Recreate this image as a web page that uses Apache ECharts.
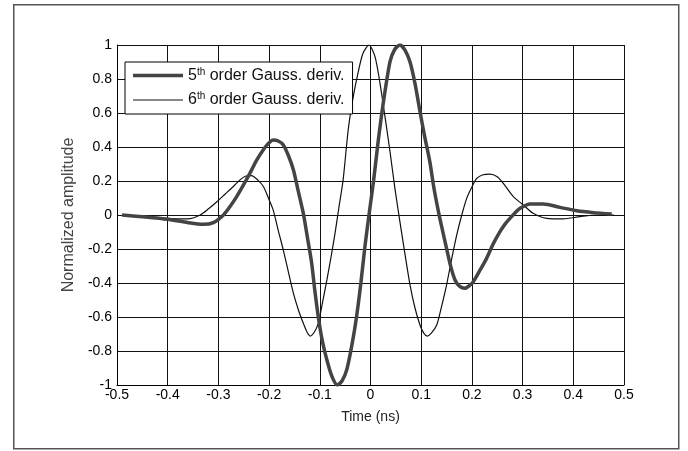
<!DOCTYPE html>
<html>
<head>
<meta charset="utf-8">
<script src="https://cdn.jsdelivr.net/npm/echarts@6/dist/echarts.min.js"></script>
<style>html,body{margin:0;padding:0;background:#fff}#c{width:688px;height:451px}</style>
</head>
<body>
<div id="c"></div>
<script>
// Time (ns) and normalized amplitude
const t5 = [-0.49,-0.45,-0.40,-0.36,-0.33,-0.31,-0.29,-0.277,-0.264,-0.25,-0.238,-0.2245,-0.21,-0.2,-0.192,-0.182,-0.172,-0.162,-0.152,-0.1425,-0.1325,-0.124,-0.116,-0.11,-0.103,-0.095,-0.086,-0.076,-0.0655,-0.056,-0.047,-0.037,-0.0275,-0.019,-0.011,-0.003,0.006,0.015,0.0256,0.0385,0.048,0.058,0.068,0.078,0.088,0.0976,0.107,0.117,0.125,0.134,0.142,0.150,0.158,0.1667,0.176,0.186,0.195,0.2028,0.215,0.229,0.242,0.2554,0.265,0.275,0.285,0.295,0.3146,0.341,0.374,0.4067,0.44,0.4757];
const v5 = [0,-0.01,-0.025,-0.045,-0.055,-0.045,0,0.05,0.108,0.18,0.245,0.323,0.39,0.425,0.441,0.435,0.412,0.35,0.265,0.14,0.01,-0.14,-0.284,-0.44,-0.598,-0.74,-0.853,-0.95,-1.0,-0.975,-0.912,-0.77,-0.598,-0.4,-0.186,0.0,0.2,0.43,0.667,0.902,0.975,1.0,0.97,0.90,0.77,0.608,0.46,0.314,0.16,0.02,-0.09,-0.196,-0.3,-0.382,-0.42,-0.431,-0.415,-0.392,-0.33,-0.255,-0.17,-0.098,-0.055,-0.02,0.012,0.039,0.065,0.065,0.045,0.025,0.014,0.006];
const t6 = [-0.49,-0.45,-0.40,-0.36,-0.336,-0.32,-0.303,-0.287,-0.271,-0.258,-0.247,-0.235,-0.222,-0.211,-0.2,-0.192,-0.182,-0.172,-0.162,-0.152,-0.142,-0.1325,-0.125,-0.119,-0.111,-0.103,-0.095,-0.086,-0.078,-0.070,-0.062,-0.054,-0.044,-0.035,-0.025,-0.015,-0.003,0.009,0.019,0.029,0.0385,0.048,0.058,0.068,0.078,0.088,0.0976,0.105,0.112,0.12,0.1306,0.14,0.150,0.16,0.17,0.18,0.1897,0.2,0.2095,0.222,0.235,0.25,0.262,0.2817,0.3014,0.321,0.3475,0.38,0.413,0.445,0.48];
const v6 = [0,-0.005,-0.02,-0.023,0,0.035,0.078,0.122,0.166,0.205,0.228,0.232,0.205,0.166,0.09,0.03,-0.09,-0.206,-0.335,-0.461,-0.56,-0.637,-0.69,-0.712,-0.69,-0.637,-0.52,-0.382,-0.25,-0.108,0.05,0.206,0.5,0.68,0.83,0.95,1.0,0.93,0.77,0.57,0.372,0.16,-0.039,-0.23,-0.412,-0.55,-0.647,-0.695,-0.712,-0.695,-0.647,-0.54,-0.412,-0.26,-0.118,0.0,0.098,0.165,0.215,0.237,0.24,0.225,0.186,0.108,0.059,0.01,-0.02,-0.023,-0.01,0,0];
const xTicks = {min: -0.5, max: 0.5, step: 0.1};
const yTicks = {min: -1, max: 1, step: 0.2};
const names = ['5th order Gauss. deriv.', '6th order Gauss. deriv.'];

const pairs = (a, b) => a.map((x, i) => [x, b[i]]);
const font = 'Liberation Sans, Arial, Helvetica, sans-serif';

const chart = echarts.init(document.getElementById('c'), null, {renderer: 'canvas'});
chart.setOption({
  animation: false,
  backgroundColor: '#fff',
  graphic: [{
    type: 'rect', left: 13, top: 4, z: -10,
    shape: {width: 665, height: 444},
    style: {fill: '#fff', stroke: '#555', lineWidth: 1.5}
  }],
  grid: {left: 117, right: 64, top: 45, bottom: 66, containLabel: false},
  legend: {
    orient: 'vertical', left: 125, top: 62,
    backgroundColor: '#fff', borderColor: '#000', borderWidth: 1,
    padding: [5, 8, 6, 8], itemGap: 8, itemWidth: 50, itemHeight: 16,
    symbolKeepAspect: true,
    data: [
      {name: names[0], icon: 'path://M0,0H50V3.5H0Z'},
      {name: names[1], icon: 'path://M0,0H50V1.2H0Z'}
    ],
    formatter: n => n.replace(/^(\d)th/, '$1{sup|th}'),
    textStyle: {fontFamily: font, fontSize: 16, color: '#111',
      rich: {sup: {fontFamily: font, fontSize: 10, color: '#111', padding: [0, 0, 7, 0], verticalAlign: 'bottom'}}}
  },
  xAxis: {
    type: 'value', min: xTicks.min, max: xTicks.max, interval: xTicks.step,
    name: 'Time (ns)', nameLocation: 'middle', nameGap: 25,
    nameTextStyle: {fontFamily: font, fontSize: 14, color: '#222'},
    axisLine: {show: true, onZero: false, lineStyle: {color: '#000', width: 1}},
    axisTick: {show: false},
    axisLabel: {fontFamily: font, fontSize: 14, color: '#000', margin: 3},
    splitLine: {show: true, lineStyle: {color: '#111', width: 1}}
  },
  yAxis: {
    type: 'value', min: yTicks.min, max: yTicks.max, interval: yTicks.step,
    name: 'Normalized amplitude', nameLocation: 'middle', nameGap: 36,
    nameTextStyle: {fontFamily: font, fontSize: 16, color: '#444'},
    axisLine: {show: true, onZero: false, lineStyle: {color: '#000', width: 1}},
    axisTick: {show: false},
    axisLabel: {fontFamily: font, fontSize: 14, color: '#000', margin: 5},
    splitLine: {show: true, lineStyle: {color: '#111', width: 1}}
  },
  series: [
    {name: names[0], type: 'line', data: pairs(t5, v5), symbol: 'none', smooth: 0.25,
     lineStyle: {color: '#444', width: 3.5}, itemStyle: {color: '#444'}, z: 3},
    {name: names[1], type: 'line', data: pairs(t6, v6), symbol: 'none', smooth: 0.25,
     lineStyle: {color: '#111', width: 1.2}, itemStyle: {color: '#111'}, z: 2}
  ]
});
</script>
</body>
</html>
